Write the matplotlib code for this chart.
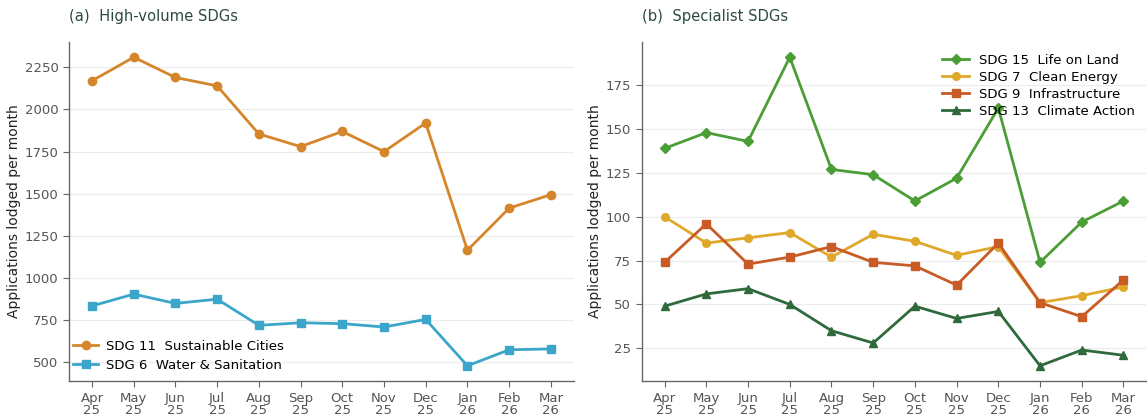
import numpy as np
import matplotlib.pyplot as plt

months = ["Apr\n25", "May\n25", "Jun\n25", "Jul\n25", "Aug\n25", "Sep\n25",
          "Oct\n25", "Nov\n25", "Dec\n25", "Jan\n26", "Feb\n26", "Mar\n26"]

# high-volume goals
sdg11 = [2170, 2310, 2190, 2140, 1855, 1780, 1870, 1750, 1920, 1165, 1415, 1495]
sdg6 = [835, 905, 850, 875, 720, 735, 730, 710, 755, 480, 575, 580]

# specialist goals
sdg15 = [139, 148, 143, 191, 127, 124, 109, 122, 162, 74, 97, 109]
sdg7 = [100, 85, 88, 91, 77, 90, 86, 78, 83, 51, 55, 60]
sdg9 = [74, 96, 73, 77, 83, 74, 72, 61, 85, 51, 43, 64]
sdg13 = [49, 56, 59, 50, 35, 28, 49, 42, 46, 15, 24, 21]

TITLE_COLOR = "#2b4a40"
TICK_COLOR = "#555555"
SPINE_COLOR = "#666666"

x = np.arange(len(months))

fig, (ax1, ax2) = plt.subplots(1, 2, figsize=(11.47, 4.18), dpi=100)
fig.subplots_adjust(left=0.0602, right=0.9995, top=0.9, bottom=0.088, wspace=0.1345)


def style_axis(ax, title):
    ax.set_title(title, loc="left", pad=15, fontsize=10.6, color=TITLE_COLOR)
    for side in ("top", "right"):
        ax.spines[side].set_visible(False)
    for side in ("left", "bottom"):
        ax.spines[side].set_color(SPINE_COLOR)
        ax.spines[side].set_linewidth(1.0)
    ax.yaxis.grid(True, color="#ececec", linewidth=0.8)
    ax.set_axisbelow(True)
    ax.set_xticks(x)
    ax.set_xticklabels(months, linespacing=0.95)
    ax.tick_params(labelsize=9.5, colors=TICK_COLOR, length=4, color=SPINE_COLOR)
    ax.set_ylabel("Applications lodged per month", fontsize=10, color="#222222", labelpad=3)


ax1.plot(x, sdg11, color="#d6862a", marker="o", markersize=6, linewidth=2,
         label="SDG 11  Sustainable Cities")
ax1.plot(x, sdg6, color="#3ba6c9", marker="s", markersize=6, linewidth=2,
         label="SDG 6  Water & Sanitation")
style_axis(ax1, "(a)  High-volume SDGs")
ax1.set_yticks([500, 750, 1000, 1250, 1500, 1750, 2000, 2250])
ax1.legend(loc="lower left", frameon=False, fontsize=9.5, handlelength=1.9,
           borderaxespad=0.3, labelspacing=0.45, handletextpad=0.6,
           bbox_to_anchor=(-0.01, 0.0))

ax2.plot(x, sdg15, color="#4b9e35", marker="D", markersize=5.5, linewidth=2,
         label="SDG 15  Life on Land")
ax2.plot(x, sdg7, color="#dfa82a", marker="o", markersize=5.5, linewidth=2,
         label="SDG 7  Clean Energy")
ax2.plot(x, sdg9, color="#c95b25", marker="s", markersize=5.5, linewidth=2,
         label="SDG 9  Infrastructure")
ax2.plot(x, sdg13, color="#2e6a3b", marker="^", markersize=6, linewidth=2,
         label="SDG 13  Climate Action")
style_axis(ax2, "(b)  Specialist SDGs")
ax2.set_yticks([25, 50, 75, 100, 125, 150, 175])
ax2.legend(loc="upper right", frameon=False, fontsize=9.5, handlelength=2.1,
           borderaxespad=0.5, labelspacing=0.3, handletextpad=0.7)

fig.savefig("out.png", dpi=100)
